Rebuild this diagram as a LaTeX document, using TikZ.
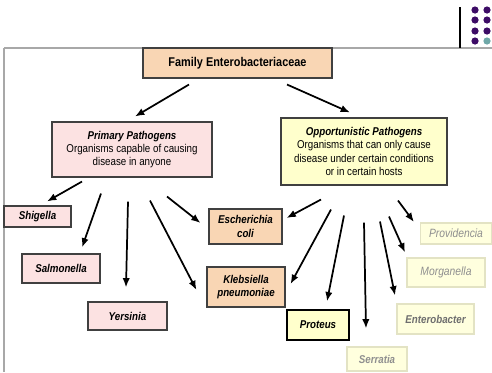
\documentclass[tikz,border=0pt]{standalone}
\usepackage{fontspec}
\setmainfont{Liberation Sans}[FakeStretch=0.86]
\usetikzlibrary{arrows.meta,calc}
\definecolor{EBPeach}{HTML}{F9D6B4}
\definecolor{EBPink}{HTML}{FCE2E2}
\definecolor{EBYellow}{HTML}{FFFFCC}
\definecolor{EBPale}{HTML}{FFFFDE}
\definecolor{EBPaleLine}{HTML}{E3E3C4}
\definecolor{EBGrey}{HTML}{8F8F8F}
\definecolor{EBDarkGrey}{HTML}{6E6E6E}
\definecolor{EBDots}{HTML}{3D0C66}
\definecolor{EBTeal}{HTML}{6FA8A8}
\definecolor{EBRule}{HTML}{A8A8A8}

\tikzset{
  box/.style={draw=black!75, line width=0.8pt, inner sep=0pt, align=center, font=\fontsize{8.5}{10}\selectfont},
  family/.style={box, fill=EBPeach, font=\fontsize{9.5}{11}\selectfont\bfseries},
  primary/.style={box, fill=EBPink},
  opport/.style={box, fill=EBYellow},
  faded/.style={box, draw=EBPaleLine, fill=EBPale, text=EBGrey, font=\fontsize{9}{10}\selectfont\itshape},
  bugname/.style={font=\fontsize{8.5}{10}\selectfont\bfseries\itshape},
  arr/.style={-{Latex[length=7pt,width=5.5pt]}, line width=1.3pt},
}

\begin{document}
\begin{tikzpicture}[x=0.75pt,y=-0.75pt]
  \useasboundingbox (0,0) rectangle (492,372);
  \draw[EBRule, line width=0.8pt] (4,48) -- (492,48) (4,48) -- (4,372);
  \draw[black, line width=0.8pt] (460,7) -- (460,48);
  \fill[EBDots] (475,10) circle[radius=2.7pt] (487,10) circle[radius=2.7pt]
    (475,20) circle[radius=2.7pt] (487,20) circle[radius=2.7pt]
    (475,31) circle[radius=2.7pt] (487,31) circle[radius=2.7pt]
    (475,41) circle[radius=2.7pt];
  \fill[EBTeal] (487,41) circle[radius=2.7pt];

  \node[family, minimum width=141.75pt, minimum height=22.5pt] (fam) at (237.5,63) {Family Enterobacteriaceae};
  \node[primary, minimum width=120pt, minimum height=41.25pt] (prim) at (132,149.5)
    {{\bfseries\itshape Primary Pathogens}\\Organisms capable of causing\\disease in anyone};
  \node[opport, minimum width=124.5pt, minimum height=50.25pt] (opp) at (364,151.5)
    {{\bfseries\itshape Opportunistic Pathogens}\\Organisms that can only cause\\disease under certain conditions\\or in certain hosts};

  \node[primary, bugname, minimum width=50.25pt, minimum height=15.75pt] (shig) at (37.5,216.5) {Shigella};
  \node[primary, bugname, minimum width=58.5pt, minimum height=21.75pt] (salm) at (61,268.5) {Salmonella};
  \node[primary, bugname, minimum width=59.25pt, minimum height=21pt] (yers) at (127.5,316) {Yersinia};
  \node[family, bugname, minimum width=54.75pt, minimum height=26.25pt] (ecoli) at (245.5,226.5) {Escherichia\\coli};
  \node[family, bugname, minimum width=58.5pt, minimum height=30pt] (kleb) at (246,287) {Klebsiella\\pneumoniae};
  \node[opport, bugname, draw=black, line width=1pt, minimum width=46.5pt, minimum height=22.5pt] (prot) at (318,325) {Proteus};
  \node[faded, bugname, text=EBGrey, minimum width=45pt, minimum height=18pt] (serr) at (377,359) {Serratia};
  \node[faded, bugname, text=EBDarkGrey, minimum width=57.75pt, minimum height=22.5pt] (ent) at (435.5,319) {Enterobacter};
  \node[faded, minimum width=58.5pt, minimum height=21.75pt] (morg) at (446,272.5) {Morganella};
  \node[faded, minimum width=53.25pt, minimum height=15.75pt] (prov) at (456,233.5) {Providencia};

  \draw[arr] ($(fam.south)+(-48.5,6)$) -- ($(prim.north)+(3,-5)$);
  \draw[arr] ($(fam.south)+(49.5,6)$) -- ($(opp.north)+(-14,-5)$);

  \draw[arr] ($(prim.south)+(-50,4)$) -- ($(shig.north)+(9.5,-4)$);
  \draw[arr] ($(prim.south)+(-31,16)$) -- ($(salm.north)+(21,-6)$);
  \draw[arr] ($(prim.south)+(-4,24)$) -- ($(yers.north)+(-1.5,-14)$);
  \draw[arr] ($(prim.south)+(18,23)$) -- ($(kleb.west)+(-10,3)$);
  \draw[arr] ($(prim.south)+(35,19)$) -- ($(ecoli.west)+(-8,-3.5)$);

  \draw[arr] ($(opp.south)+(-43,14)$) -- ($(ecoli.east)+(4,-8.5)$);
  \draw[arr] ($(opp.south)+(-33,24)$) -- ($(kleb.east)+(5,-3)$);
  \draw[arr] ($(opp.south)+(-20,30)$) -- ($(prot.north)+(9,-8)$);
  \draw[arr] ($(opp.south)+(0,37)$) -- ($(serr.north)+(-11,-18)$);
  \draw[arr] ($(opp.south)+(16,36)$) -- ($(ent.north)+(-40.5,-8)$);
  \draw[arr] ($(opp.south)+(25,31)$) -- ($(morg.north)+(-41,-5)$);
  \draw[arr] ($(opp.south)+(34,15)$) -- ($(prov.west)+(-6,-11.5)$);
\end{tikzpicture}
\end{document}
